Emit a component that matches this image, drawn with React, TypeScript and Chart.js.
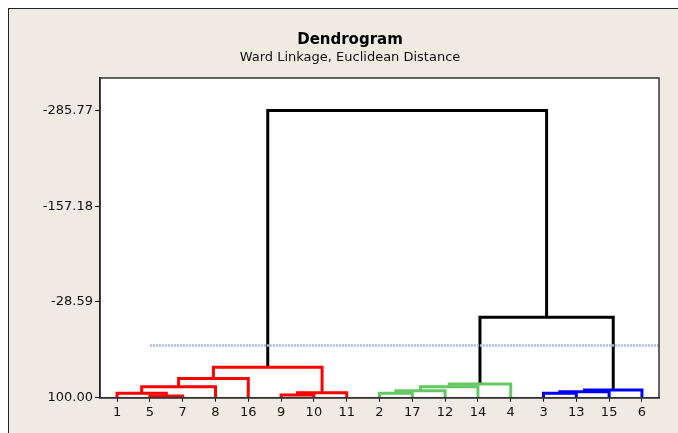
import React, { useEffect, useRef } from "react";
import { Chart, registerables } from "chart.js";
Chart.register(...registerables);

// Leaves in display order (node ids 0..16)
const leafLabels = ["1", "5", "7", "8", "16", "9", "10", "11", "2", "17", "12", "14", "4", "3", "13", "15", "6"];
const leafHeight = 100;
// Merge i creates node id 17 + i
const mergeLeft = [1, 0, 18, 19, 5, 21, 20, 8, 24, 25, 26, 13, 28, 29, 27, 23];
const mergeRight = [2, 17, 3, 4, 6, 7, 22, 9, 10, 11, 12, 14, 15, 16, 30, 31];
const mergeHeight = [97.7, 94.1, 85.2, 74.2, 96.4, 93.3, 59.1, 94.1, 90.6, 85.2, 81.6, 94.1, 91.9, 89.7, -8.1, -285.77];
const mergeGroup = ["r", "r", "r", "r", "r", "r", "r", "g", "g", "g", "g", "b", "b", "b", "k", "k"];
const yTickValues = [100, -28.59, -157.18, -285.77];
const cutLevel = 29.8;
const cutStartLeaf = 1;

const groupColors: Record<string, string> = { r: "#FF0000", g: "#64C864", b: "#0000F0", k: "#000000" };

const X_MIN = -0.52;
const X_MAX = 16.52;
const Y_MIN = -329.3;
const Y_MAX = 100;
const FONT = "'DejaVu Sans', Tahoma, sans-serif";

export default function App() {
  const ref = useRef<HTMLCanvasElement>(null);
  useEffect(() => {
    if (!ref.current) return;
    document.body.style.overflow = "hidden";
    const nLeaves = leafLabels.length;
    const nodeX: number[] = leafLabels.map((_, i) => i);
    const nodeH: number[] = leafLabels.map(() => leafHeight);
    const datasets: any[] = [];
    datasets.push({
      data: [
        { x: cutStartLeaf, y: cutLevel },
        { x: X_MAX, y: cutLevel },
      ],
      borderColor: "#A9BDD9",
      borderWidth: 2.5,
      borderDash: [2, 1],
      pointRadius: 0,
      fill: false,
    });
    mergeLeft.forEach((l, i) => {
      const r = mergeRight[i];
      const h = mergeHeight[i];
      const xl = nodeX[l], xr = nodeX[r];
      datasets.push({
        data: [
          { x: xl, y: nodeH[l] },
          { x: xl, y: h },
          { x: xr, y: h },
          { x: xr, y: nodeH[r] },
        ],
        borderColor: groupColors[mergeGroup[i]],
        borderWidth: 3,
        borderJoinStyle: "miter",
        borderCapStyle: "butt",
        pointRadius: 0,
        fill: false,
        tension: 0,
      });
      nodeX[nLeaves + i] = (xl + xr) / 2;
      nodeH[nLeaves + i] = h;
    });

    const bgPlugin = {
      id: "plotbg",
      beforeDraw(chart: any) {
        const { ctx, chartArea: a } = chart;
        ctx.save();
        ctx.fillStyle = "#FFFFFF";
        ctx.fillRect(a.left, a.top, a.right - a.left, a.bottom - a.top);
        ctx.restore();
      },
      afterDraw(chart: any) {
        const { ctx, chartArea: a } = chart;
        ctx.save();
        ctx.strokeStyle = "#333333";
        ctx.lineWidth = 1.5;
        ctx.strokeRect(a.left, a.top, a.right - a.left, a.bottom - a.top);
        ctx.fillStyle = "#000000";
        ctx.textAlign = "center";
        ctx.textBaseline = "middle";
        ctx.font = `bold 15px ${FONT}`;
        ctx.fillText("Dendrogram", 341, 31);
        ctx.font = `13px ${FONT}`;
        ctx.fillStyle = "#111111";
        ctx.fillText("Ward Linkage, Euclidean Distance", 341, 49);
        ctx.restore();
      },
    };

    const chart = new Chart(ref.current, {
      type: "line",
      data: { datasets },
      plugins: [bgPlugin],
      options: {
        animation: false,
        responsive: false,
        maintainAspectRatio: false,
        layout: { padding: { left: 0, top: 69, right: 19, bottom: 0 } },
        plugins: { legend: { display: false }, tooltip: { enabled: false }, title: { display: false } },
        scales: {
          x: {
            type: "linear",
            min: X_MIN,
            max: X_MAX,
            afterBuildTicks(scale: any) {
              scale.ticks = leafLabels.map((_, i) => ({ value: i }));
            },
            afterFit(scale: any) {
              scale.height = 35.3;
            },
            ticks: {
              autoSkip: false,
              maxRotation: 0,
              padding: 3,
              color: "#111111",
              font: { family: FONT, size: 13 },
              callback: (v: any) => leafLabels[Math.round(Number(v))] ?? "",
            },
            grid: { drawOnChartArea: false, drawTicks: true, tickLength: 4, color: "#000000", lineWidth: 1 },
            border: { display: true, color: "#000000", width: 1.5 },
          },
          y: {
            type: "linear",
            reverse: true,
            min: Y_MIN,
            max: Y_MAX,
            afterBuildTicks(scale: any) {
              scale.ticks = yTickValues.map((v) => ({ value: v }));
            },
            afterFit(scale: any) {
              scale.width = 91;
            },
            ticks: {
              autoSkip: false,
              padding: 2,
              color: "#111111",
              font: { family: FONT, size: 13 },
              callback: (v: any) => Number(v).toFixed(2),
            },
            grid: { drawOnChartArea: false, drawTicks: true, tickLength: 5, color: "#000000", lineWidth: 1 },
            border: { display: true, color: "#000000", width: 1.5 },
          },
        },
      } as any,
    });
    return () => chart.destroy();
  }, []);

  return (
    <div
      style={{
        position: "fixed",
        left: 8,
        top: 8,
        width: 669,
        height: 424,
        background: "#EFEBE2",
        borderLeft: "1px solid #222",
        borderTop: "1px solid #222",
        overflow: "hidden",
      }}
    >
      <canvas ref={ref} width={669} height={424} style={{ display: "block", width: 669, height: 424 }} />
    </div>
  );
}
